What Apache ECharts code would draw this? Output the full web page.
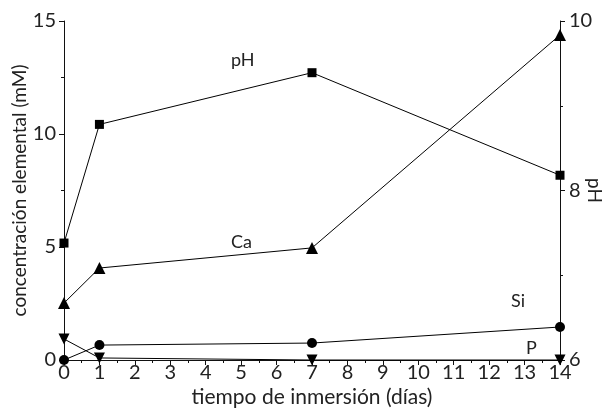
<!DOCTYPE html>
<html><head><meta charset="utf-8">
<script src="https://cdn.jsdelivr.net/npm/echarts@6/dist/echarts.min.js"></script>
<style>html,body{margin:0;padding:0;background:#fff}#c{width:614px;height:414px}</style>
</head><body><div id="c"></div>
<script>
var days = [0, 1, 7, 14];
var pH = [7.38, 8.78, 9.39, 8.18];
var Ca = [2.52, 4.07, 4.96, 14.38];
var Si = [0, 0.66, 0.75, 1.46];
var P = [0.93, 0.09, 0, 0];
var seriesNames = ['pH', 'Ca', 'Si', 'P'];
var xTitle = 'tiempo de inmersión (días)';
var yTitle = 'concentración elemental (mM)';
var y2Title = 'pH';

function pairs(v){ return days.map(function(d,i){ return [d, v[i]]; }); }
var FONT = 'Lato, "Open Sans", sans-serif';
var chart = echarts.init(document.getElementById('c'));
function axisBase(){
  return {
    nameMoveOverlap: false,
    axisLine: {show: true, lineStyle: {color: '#111', width: 1}},
    axisTick: {show: true, lineStyle: {color: '#111'}, length: 5},
    minorTick: {show: true, splitNumber: 2, length: 3, lineStyle: {color: '#111'}},
    splitLine: {show: false},
    minorSplitLine: {show: false},
    axisLabel: {color: '#222', fontSize: 20, fontFamily: FONT, margin: 8},
    nameTextStyle: {color: '#222', fontSize: 19, fontFamily: FONT}
  };
}
function mk(name, data, symbol, size, yIdx){
  return {name: name, type: 'line', data: pairs(data), yAxisIndex: yIdx,
    symbol: symbol, symbolSize: size, showSymbol: true,
    lineStyle: {color: '#000', width: 1}, itemStyle: {color: '#000'},
    emphasis: {disabled: true}, animation: false, clip: false};
}
var xa = axisBase();
xa.axisLabel.margin = 3;
xa.nameTextStyle.fontSize = 21;
var ya = axisBase();
var yb = axisBase();
yb.axisLabel.margin = 9;
chart.setOption({
  animation: false,
  grid: {left: 64, right: 54, top: 21, bottom: 54, containLabel: false, outerBoundsMode: 'none'},
  xAxis: Object.assign(xa, {type: 'value', min: 0, max: 14, interval: 1,
    name: xTitle, nameLocation: 'middle', nameGap: 27}),
  yAxis: [
    Object.assign(ya, {type: 'value', min: 0, max: 15, interval: 5, position: 'left',
      name: yTitle, nameLocation: 'middle', nameGap: 35}),
    Object.assign(yb, {type: 'value', min: 6, max: 10, interval: 2, position: 'right',
      name: y2Title, nameLocation: 'middle', nameGap: 25, nameRotate: -90})
  ],
  series: [
    mk(seriesNames[0], pH, 'rect', 9, 1),
    mk(seriesNames[1], Ca, 'triangle', 12, 0),
    mk(seriesNames[2], Si, 'circle', 10, 0),
    mk(seriesNames[3], P, 'path://M0,0 L10,0 L5,9 Z', 11, 0)
  ],
  graphic: [
    {type: 'text', left: 231, top: 51, style: {text: seriesNames[0], font: '18px ' + FONT, fill: '#222'}},
    {type: 'text', left: 231, top: 233, style: {text: seriesNames[1], font: '18px ' + FONT, fill: '#222'}},
    {type: 'text', left: 511, top: 292, style: {text: seriesNames[2], font: '18px ' + FONT, fill: '#222'}},
    {type: 'text', left: 526, top: 339, style: {text: seriesNames[3], font: '18px ' + FONT, fill: '#222'}}
  ]
});
</script></body></html>
